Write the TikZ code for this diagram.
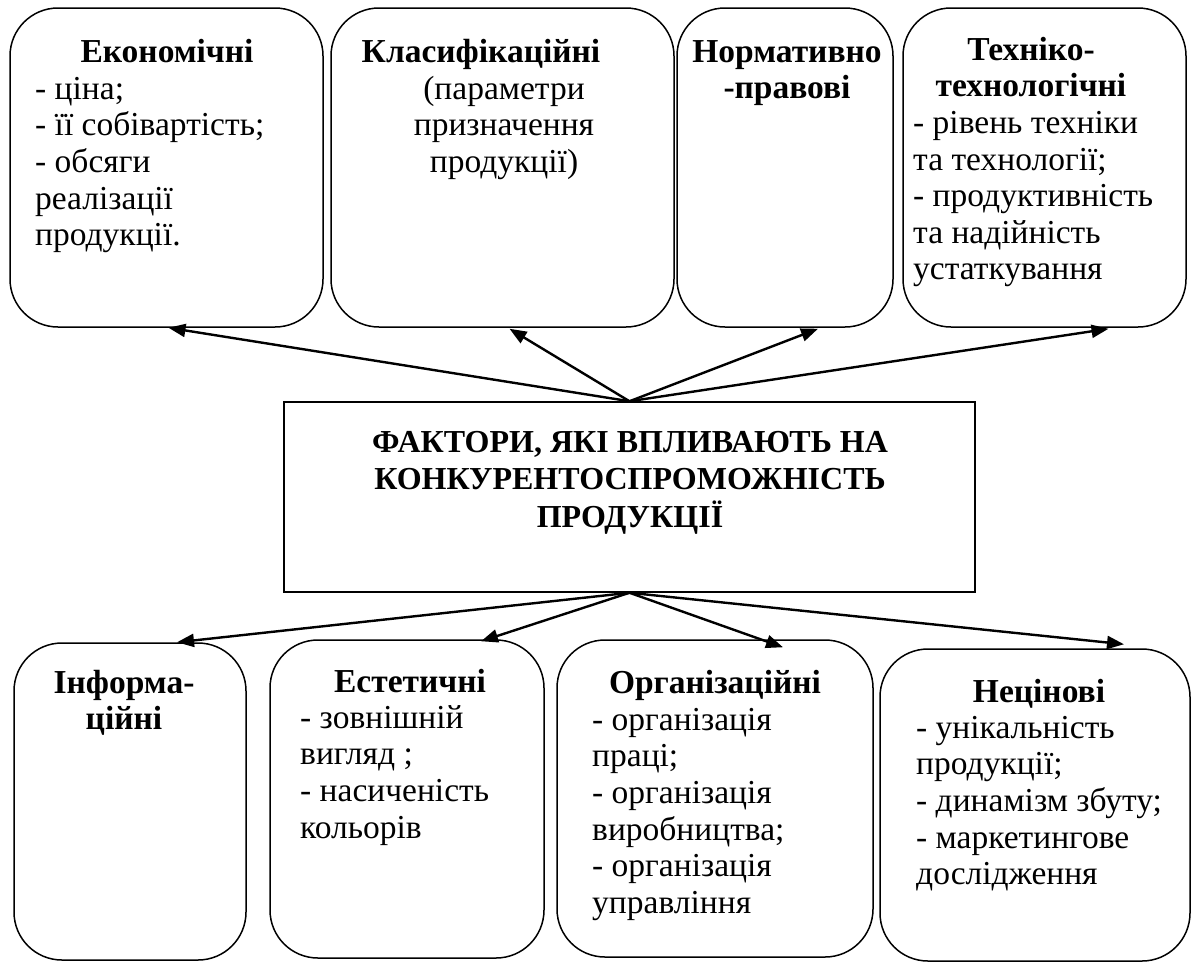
\documentclass[tikz,border=0pt]{standalone}
\usepackage{fontspec}
\setmainfont{Liberation Serif}[BoldFont={Liberation Serif Bold}]
\usetikzlibrary{arrows.meta}

\newcommand{\boxfont}{\fontsize{33.5}{36.6}\selectfont}
\newcommand{\titlefont}{\fontsize{32}{37.5}\selectfont}

\tikzset{
  box/.style={draw, line width=1.5pt, rounded corners=48pt},
  mainbox/.style={draw, line width=1.5pt},
  head/.style={font=\boxfont\bfseries, inner sep=0pt, anchor=north, align=center},
  mid/.style={font=\boxfont, inner sep=0pt, anchor=north, align=center},
  body/.style={font=\boxfont, inner sep=0pt, anchor=north west, align=left},
  arr/.style={line width=2.4pt, -{Triangle[length=17pt,width=13pt]}}
}

\begin{document}
\begin{tikzpicture}[x=1pt,y=-1pt]
\useasboundingbox (0,0) rectangle (1193,962);

% top row
\node[box, minimum width=313pt, minimum height=319pt] (eco) at (166.5,167.5) {};
\node[box, minimum width=343pt, minimum height=319pt] (cls) at (502.5,167.5) {};
\node[box, minimum width=216pt, minimum height=319pt] (norm) at (785,167.5) {};
\node[box, minimum width=283pt, minimum height=319pt] (tech) at (1044.5,167.5) {};

\node[head] (ecoh) at (167,36.4) {\strut Економічні};
\node[body] (ecob) at (35,73.4) {\strut - ціна;\\- її собівартість;\\- обсяги\\реалізації\\продукції.};

\node[head] (clsh) at (481,36.4) {\strut Класифікаційні};
\node[mid] (clsb) at (504,73.4) {\strut (параметри\\призначення\\продукції)};

\node[head] (normh) at (787,36.4) {\strut Нормативно\\-правові};

\node[head] (techh) at (1031,34.4) {\strut Техніко-\\технологічні};
\node[body] (techb) at (913,107.6) {\strut - рівень техніки\\та технології;\\- продуктивність\\та надійність\\устаткування};

% centre
\node[mainbox, minimum width=691pt, minimum height=190pt] (ctr) at (629.5,497) {};
\node[head, font=\titlefont\bfseries] (ctrh) at (630,425.8) {\strut ФАКТОРИ, ЯКІ ВПЛИВАЮТЬ НА\\КОНКУРЕНТОСПРОМОЖНІСТЬ\\ПРОДУКЦІЇ};

% bottom row
\node[box, minimum width=232pt, minimum height=317pt] (inf) at (130,801.5) {};
\node[box, minimum width=274pt, minimum height=318pt] (est) at (407,799) {};
\node[box, minimum width=316pt, minimum height=317pt] (org) at (715,798.5) {};
\node[box, minimum width=310pt, minimum height=312pt] (nec) at (1035,805) {};

\node[head] (infh) at (124,667.4) {\strut Інформа-\\ційні};

\node[head] (esth) at (410,666.4) {\strut Естетичні};
\node[body] (estb) at (300,702.4) {\strut - зовнішній\\вигляд ;\\- насиченість\\кольорів};

\node[head] (orgh) at (715,667.4) {\strut Організаційні};
\node[body] (orgb) at (592,704.4) {\strut - організація\\праці;\\- організація\\виробництва;\\- організація\\управління};

\node[head] (nech) at (1039,676.4) {\strut Нецінові};
\node[body] (necb) at (916,712.4) {\strut - унікальність\\продукції;\\- динамізм збуту;\\- маркетингове\\дослідження};

% arrows
\draw[arr] (ctr.north) -- ([xshift=2pt]eco.south);
\draw[arr] (ctr.north) -- ([xshift=7pt,yshift=-1pt]cls.south);
\draw[arr] (ctr.north) -- ([xshift=33pt,yshift=-1pt]norm.south);
\draw[arr] (ctr.north) -- ([xshift=64pt,yshift=-1pt]tech.south);

\draw[arr] (ctr.south) -- ([xshift=47pt]inf.north);
\draw[arr] (ctr.south) -- ([xshift=74pt,yshift=-2pt]est.north);
\draw[arr] (ctr.south) -- ([xshift=68pt,yshift=-8pt]org.north);
\draw[arr] (ctr.south) -- ([xshift=89pt,yshift=4pt]nec.north);

\end{tikzpicture}
\end{document}
